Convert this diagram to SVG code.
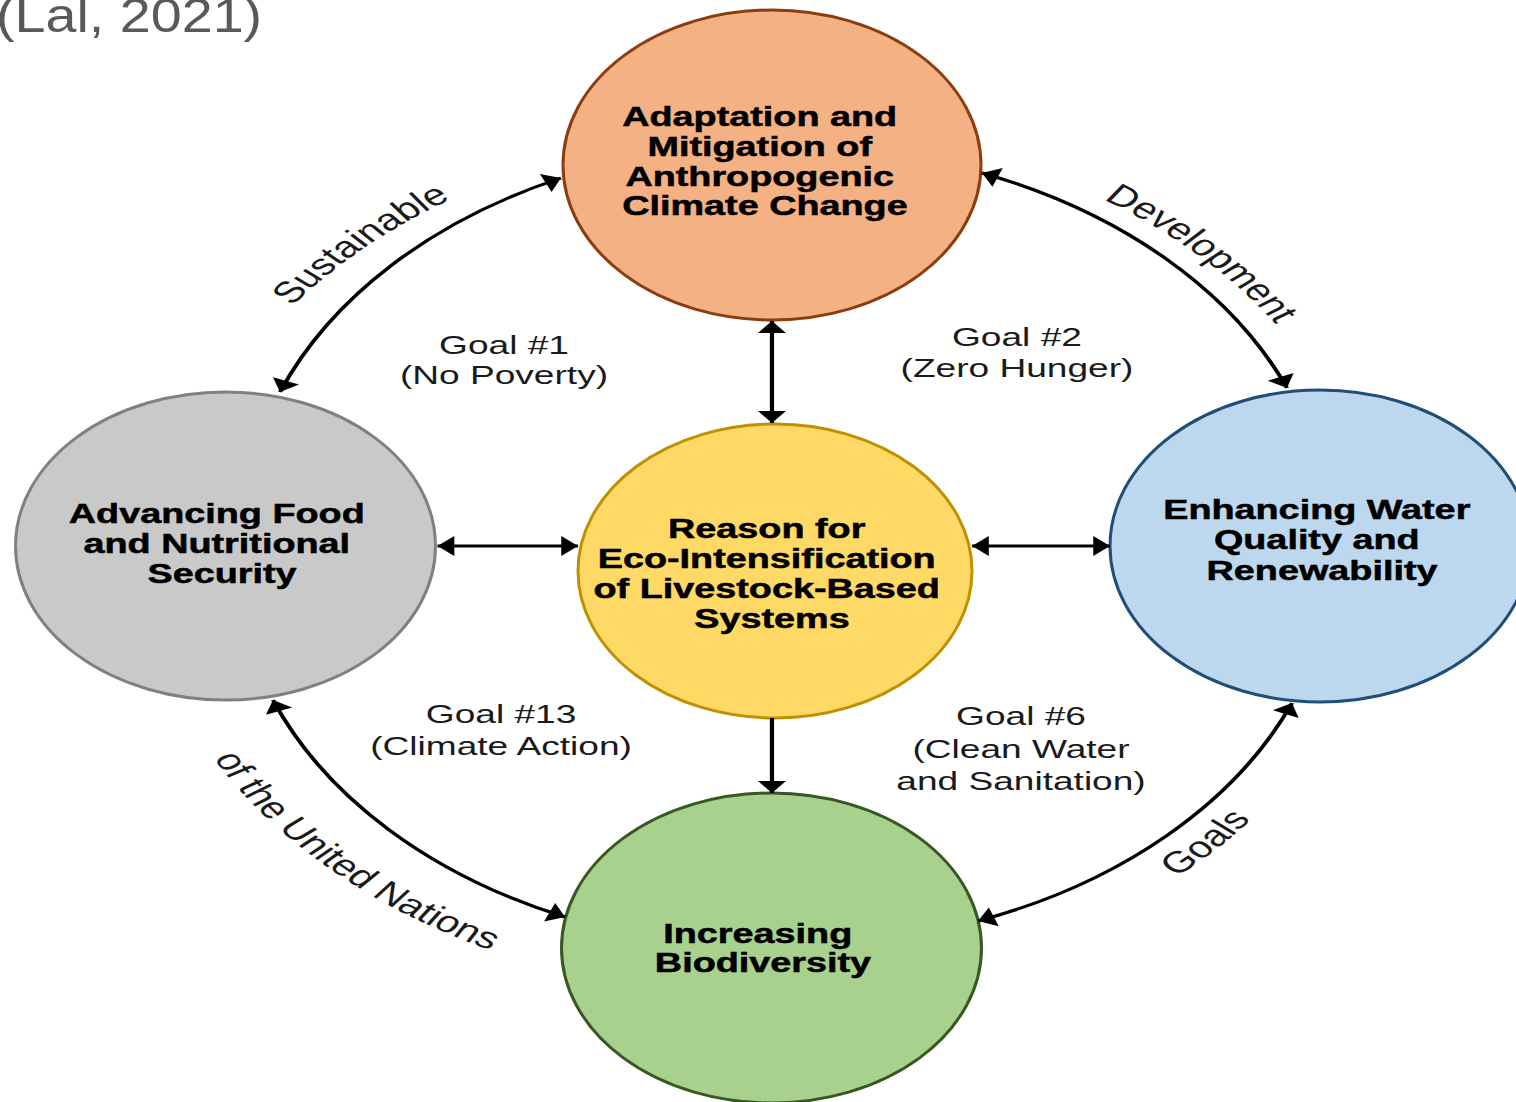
<svg xmlns="http://www.w3.org/2000/svg" xmlns:xlink="http://www.w3.org/1999/xlink" width="1516" height="1102" viewBox="0 0 1516 1102">
  <style>
    .node { stroke-width: 3; }
    .ntext { font-family: "Liberation Sans", Arial, sans-serif; font-weight: bold; font-size: 27px; fill: #000; stroke: #000; stroke-width: 0.5; text-anchor: middle; }
    .goal { font-family: "Liberation Sans", Arial, sans-serif; font-size: 26.5px; fill: #1a1a1a; text-anchor: middle; }
    .arc-label { font-family: "Liberation Sans", Arial, sans-serif; font-size: 30px; fill: #1a1a1a; }
    .cite { font-family: "Liberation Sans", Arial, sans-serif; font-size: 48px; fill: #595959; }
    .link { fill: none; stroke: #000; stroke-width: 3; }
  </style>
  <defs>
    <marker id="ah" markerUnits="userSpaceOnUse" markerWidth="14" markerHeight="22" refX="12" refY="10" orient="auto-start-reverse" overflow="visible">
      <path d="M0,0 L12,10 L0,20 z" fill="#000"/>
    </marker>
    <!-- label baselines around the outer ring (drawn in the 1.4x stretched frame) -->
    <path id="p-sust" d="M 157.5 399.2 A 424 424 0 0 1 418.3 153.5"/>
    <path id="p-dev" d="M 700.6 154.8 A 428 428 0 0 1 954.6 412.4"/>
    <path id="p-goals" d="M 748.9 940.2 A 432 432 0 0 0 949.7 723.4"/>
    <path id="p-un" d="M 127.6 703.4 A 453 453 0 0 0 406.2 973.5"/>
  </defs>

  <rect width="1516" height="1102" fill="#fff"/>

  <text class="cite" transform="translate(-4 0) scale(1.16 1)" x="0" y="32">(Lal, 2021)</text>

  <g id="node-climate">
    <ellipse class="node" cx="772" cy="165" rx="209" ry="155" fill="#F4B183" stroke="#8C3D10"/>
    <text class="ntext" transform="scale(1.4 1)">
      <tspan x="546.4" y="126">Adaptation and</tspan>
      <tspan x="546.4" y="156">Mitigation of</tspan>
      <tspan x="546.4" y="186">Anthropogenic</tspan>
      <tspan x="546.4" y="215">Climate Change</tspan>
    </text>
  </g>

  <g id="node-food">
    <ellipse class="node" cx="225.5" cy="546" rx="210" ry="154" fill="#C9C9C9" stroke="#808080"/>
    <text class="ntext" transform="scale(1.4 1)">
      <tspan x="158.6" y="523">Advancing Food</tspan>
      <tspan x="158.6" y="553">and Nutritional</tspan>
      <tspan x="158.6" y="583">Security</tspan>
    </text>
  </g>

  <g id="node-center">
    <ellipse class="node" cx="775" cy="571" rx="197" ry="147" fill="#FFD966" stroke="#BF9000"/>
    <text class="ntext" transform="scale(1.4 1)">
      <tspan x="551.4" y="538">Reason for</tspan>
      <tspan x="551.4" y="568">Eco-Intensification</tspan>
      <tspan x="551.4" y="598">of Livestock-Based</tspan>
      <tspan x="551.4" y="628">Systems</tspan>
    </text>
  </g>

  <g id="node-water">
    <ellipse class="node" cx="1320" cy="546" rx="210" ry="156" fill="#BDD7EE" stroke="#1F4E79"/>
    <text class="ntext" transform="scale(1.4 1)">
      <tspan x="944.3" y="519">Enhancing Water</tspan>
      <tspan x="944.3" y="549">Quality and</tspan>
      <tspan x="944.3" y="580">Renewability</tspan>
    </text>
  </g>

  <g id="node-biodiversity">
    <ellipse class="node" cx="771.5" cy="948" rx="210" ry="155" fill="#A9D18E" stroke="#385723"/>
    <text class="ntext" transform="scale(1.4 1)">
      <tspan x="545" y="943">Increasing</tspan>
      <tspan x="545" y="972">Biodiversity</tspan>
    </text>
  </g>

  <g id="connectors" transform="scale(1.4 1)">
    <!-- outer ring -->
    <path class="link" d="M 200 392 A 390 390 0 0 1 400.7 178" marker-start="url(#ah)" marker-end="url(#ah)"/>
    <path class="link" d="M 701.4 173 A 390 390 0 0 1 919.3 388" marker-start="url(#ah)" marker-end="url(#ah)"/>
    <path class="link" d="M 922.9 703 A 390 390 0 0 1 698.6 921" marker-start="url(#ah)" marker-end="url(#ah)"/>
    <path class="link" d="M 403.6 917 A 390 390 0 0 1 195 700" marker-start="url(#ah)" marker-end="url(#ah)"/>
    <!-- spokes from the centre -->
    <path class="link" d="M 551.4 321 L 551.4 423" marker-start="url(#ah)" marker-end="url(#ah)"/>
    <path class="link" d="M 312.5 546 L 412.9 546" marker-start="url(#ah)" marker-end="url(#ah)"/>
    <path class="link" d="M 694.3 546 L 792.9 546" marker-start="url(#ah)" marker-end="url(#ah)"/>
    <path class="link" d="M 551.4 718 L 551.4 793" marker-end="url(#ah)"/>
  </g>

  <g id="labels" transform="scale(1.4 1)">
    <text class="goal"><tspan x="360" y="354">Goal #1</tspan><tspan x="360" y="384">(No Poverty)</tspan></text>
    <text class="goal"><tspan x="726.4" y="346">Goal #2</tspan><tspan x="726.4" y="377">(Zero Hunger)</tspan></text>
    <text class="goal"><tspan x="357.9" y="723">Goal #13</tspan><tspan x="357.9" y="755">(Climate Action)</tspan></text>
    <text class="goal"><tspan x="729.3" y="725">Goal #6</tspan><tspan x="729.3" y="758">(Clean Water</tspan><tspan x="729.3" y="790">and Sanitation)</tspan></text>

    <text class="arc-label" text-anchor="middle"><textPath xlink:href="#p-sust" startOffset="50%">Sustainable</textPath></text>
    <text class="arc-label" text-anchor="middle"><textPath xlink:href="#p-dev" startOffset="50%">Development</textPath></text>
    <text class="arc-label" text-anchor="middle"><textPath xlink:href="#p-goals" startOffset="50%">Goals</textPath></text>
    <text class="arc-label" text-anchor="middle" font-size="31"><textPath xlink:href="#p-un" startOffset="50%">of the United Nations</textPath></text>
  </g>
</svg>
